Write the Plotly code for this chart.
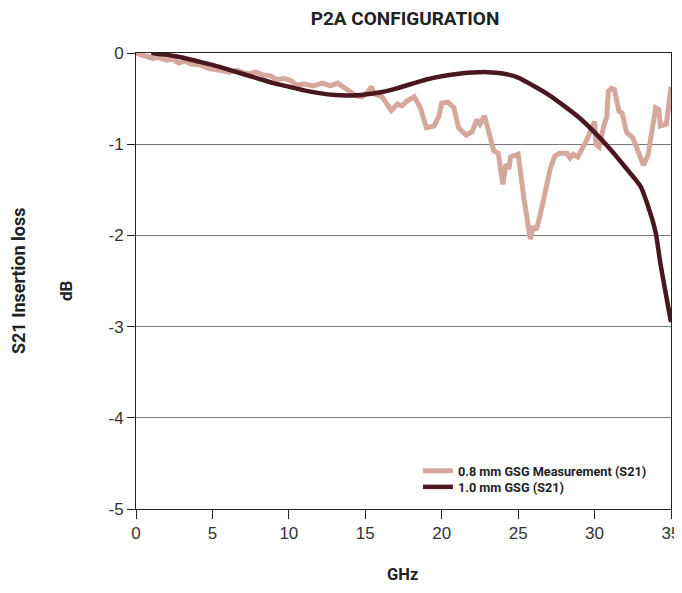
import plotly.graph_objects as go

# 0.8 mm GSG Measurement (S21)
meas_ghz = [0.0, 0.5, 1.1, 1.5, 2.0, 2.4, 2.8, 3.2, 3.6, 4.2, 4.8, 5.5, 6.1, 6.6, 7.3, 7.8,
            8.3, 8.8, 9.2, 9.7, 10.1, 10.5, 11.0, 11.6, 12.2, 12.7, 13.2, 13.8, 14.4, 14.8,
            15.2, 15.4, 15.6, 16.1, 16.7, 17.1, 17.4, 17.7, 18.2, 18.6, 19.0, 19.5, 19.8,
            20.0, 20.4, 20.8, 21.1, 21.6, 22.0, 22.3, 22.5, 22.8, 23.2, 23.4, 23.7, 24.0,
            24.2, 24.4, 24.5, 25.0, 25.4, 25.8, 26.0, 26.2, 26.6, 27.1, 27.4, 27.7, 28.2,
            28.4, 28.6, 28.9, 29.5, 30.0, 30.1, 30.3, 30.6, 30.8, 30.9, 31.1, 31.3, 31.6,
            31.8, 32.1, 32.5, 33.0, 33.2, 33.5, 34.0, 34.2, 34.3, 34.7, 34.9, 35.0]
meas_db = [0.0, -0.03, -0.06, -0.05, -0.08, -0.07, -0.11, -0.09, -0.12, -0.13, -0.17, -0.19,
           -0.21, -0.19, -0.23, -0.21, -0.24, -0.25, -0.29, -0.28, -0.30, -0.35, -0.34, -0.36,
           -0.33, -0.36, -0.33, -0.40, -0.47, -0.48, -0.42, -0.37, -0.45, -0.48, -0.63, -0.56,
           -0.58, -0.53, -0.48, -0.60, -0.82, -0.80, -0.70, -0.55, -0.54, -0.60, -0.82, -0.90,
           -0.86, -0.73, -0.78, -0.69, -0.93, -1.07, -1.10, -1.44, -1.22, -1.27, -1.14, -1.11,
           -1.62, -2.04, -1.90, -1.94, -1.66, -1.27, -1.13, -1.10, -1.10, -1.15, -1.11, -1.14,
           -0.95, -0.75, -1.00, -1.03, -0.80, -0.70, -0.42, -0.39, -0.40, -0.64, -0.66, -0.87,
           -0.93, -1.16, -1.23, -1.12, -0.60, -0.62, -0.80, -0.78, -0.45, -0.37]

# 1.0 mm GSG (S21)
gsg_ghz = [1.0, 2.0, 3.0, 4.0, 5.0, 6.0, 7.0, 8.0, 9.0, 10.0, 11.0, 12.0, 13.0, 14.0, 15.0,
           16.0, 17.0, 18.0, 19.0, 20.0, 21.0, 22.0, 23.0, 24.0, 25.0, 26.0, 27.0, 28.0,
           29.0, 30.0, 31.0, 32.0, 33.0, 33.5, 34.0, 34.3, 35.0]
gsg_db = [0.0, -0.02, -0.05, -0.09, -0.13, -0.18, -0.23, -0.28, -0.33, -0.37, -0.41, -0.44,
          -0.46, -0.465, -0.455, -0.43, -0.39, -0.34, -0.29, -0.255, -0.23, -0.215, -0.21,
          -0.225, -0.27, -0.36, -0.46, -0.58, -0.71, -0.87, -1.05, -1.25, -1.46, -1.68,
          -1.97, -2.3, -2.95]

x_ticks = [0, 5, 10, 15, 20, 25, 30, 35]
y_ticks = [0, -1, -2, -3, -4, -5]

HEAD = "Roboto, sans-serif"
TICK = "Liberation Sans, Arial, sans-serif"

W, H = 674, 577  # page body has an 8px margin; keep the page from scrolling

fig = go.Figure()
fig.add_trace(go.Scatter(x=meas_ghz, y=meas_db, mode="lines",
                         name="0.8 mm GSG Measurement (S21)", legend="legend",
                         line=dict(color="#D6A79C", width=5)))
fig.add_trace(go.Scatter(x=gsg_ghz, y=gsg_db, mode="lines",
                         name="1.0 mm GSG (S21)", legend="legend2",
                         line=dict(color="#4A1620", width=4.5, shape="spline", smoothing=0.6)))

legend_style = dict(xanchor="left", yanchor="middle", bgcolor="rgba(0,0,0,0)",
                    itemwidth=30,
                    font=dict(family=HEAD, size=12.7, color="#222", weight="bold"))

fig.update_layout(
    width=W, height=H,
    margin=dict(l=128, r=11, t=45, b=76, autoexpand=False),
    paper_bgcolor="white", plot_bgcolor="white",
    title=dict(text="<b>P2A CONFIGURATION</b>", x=397 / W, xanchor="center",
               y=1 - 10 / H, yanchor="middle",
               font=dict(family=HEAD, size=19, color="#222")),
    showlegend=True,
    legend=dict(x=0.527, y=0.0833, **legend_style),
    legend2=dict(x=0.527, y=0.048, **legend_style),
    xaxis=dict(range=[0, 35], tickvals=x_ticks, ticktext=[str(v) for v in x_ticks],
               automargin=False,
               showgrid=False, zeroline=False, showline=True, linecolor="#222",
               linewidth=1, mirror=True, ticks="outside", ticklen=9, tickcolor="#222",
               tickfont=dict(family=TICK, size=17, color="#333")),
    yaxis=dict(range=[-5, 0], tickvals=y_ticks, ticktext=[str(v) for v in y_ticks],
               automargin=False,
               showgrid=True, gridcolor="#777", gridwidth=1, zeroline=False,
               showline=True, linecolor="#222", linewidth=1, mirror=True,
               ticks="outside", ticklen=8, tickcolor="#222",
               tickfont=dict(family=TICK, size=17, color="#333")),
    annotations=[
        dict(text="<b>S21 Insertion loss</b>", xref="paper", yref="paper",
             x=-0.2206, y=0.502, xanchor="center", yanchor="middle", textangle=-90,
             showarrow=False, font=dict(family=HEAD, size=18, color="#222")),
        dict(text="<b>dB</b>", xref="paper", yref="paper",
             x=-0.131, y=0.48, xanchor="center", yanchor="middle", textangle=-90,
             showarrow=False, font=dict(family=HEAD, size=17, color="#222")),
        dict(text="<b>GHz</b>", xref="paper", yref="paper",
             x=0.499, y=-0.143, xanchor="center", yanchor="middle",
             showarrow=False, font=dict(family=HEAD, size=16.5, color="#222")),
    ],
)

fig.write_html("out.html")
